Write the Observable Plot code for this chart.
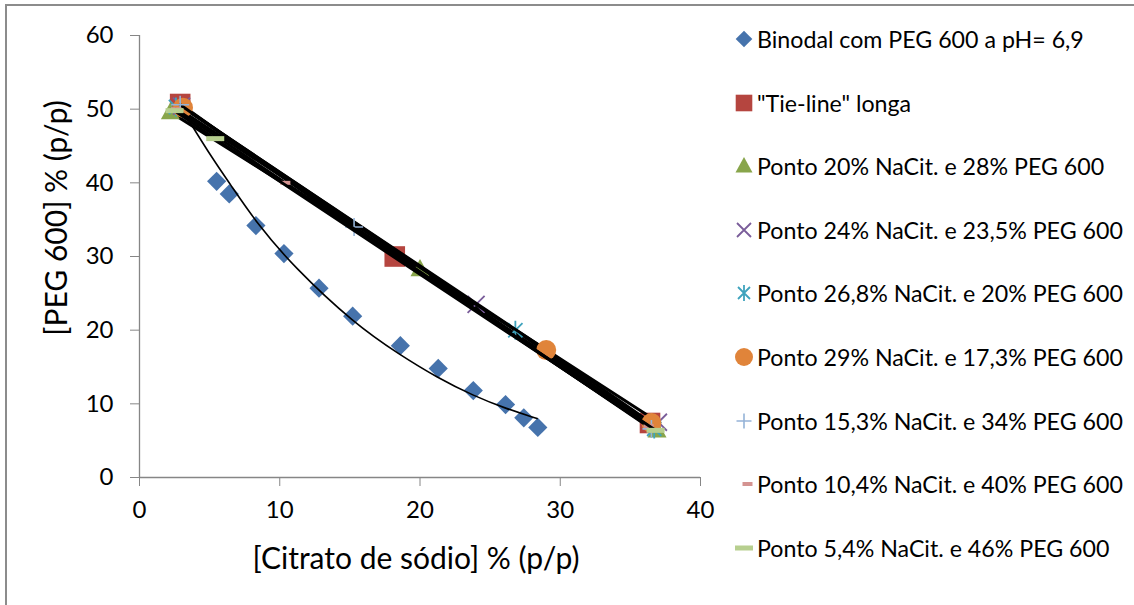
<!DOCTYPE html>
<html><head><meta charset="utf-8">
<script src="https://cdn.jsdelivr.net/npm/d3@7"></script>
<script src="https://cdn.jsdelivr.net/npm/@observablehq/plot@0.6"></script>
<style>
body{margin:0;background:#fff;}
#wrap{position:relative;width:1134px;height:605px;overflow:hidden;font-family:Lato,"Open Sans",sans-serif;color:#000;background:#fff;}
#frame{position:absolute;left:5px;top:4px;width:1300px;height:800px;border-left:2px solid #8c8c8c;border-top:2px solid #8c8c8c;box-sizing:border-box;}
#chart{position:absolute;left:0;top:0;}
.title{position:absolute;font-size:30px;white-space:nowrap;}
#legend{position:absolute;left:0;top:0;}
.lrow{position:absolute;left:733px;height:28px;display:flex;align-items:center;font-size:23.2px;white-space:nowrap;}
.lrow svg{width:22px;height:22px;margin-right:2px;flex:none;}
</style></head>
<body>
<div id="wrap">
  <div id="frame"></div>
  <div id="chart"></div>
  <div class="title" id="xt">[Citrato de sódio] % (p/p)</div>
  <div class="title" id="yt">[PEG 600] % (p/p)</div>
  <div id="legend"></div>
</div>
<script>
// ---- data ----
const xTicks = [0, 10, 20, 30, 40];
const yTicks = [0, 10, 20, 30, 40, 50, 60];

const binodalName = "Binodal com PEG 600 a pH= 6,9";
const binodalX = [2.8, 5.5, 6.4, 8.3, 10.3, 12.8, 15.2, 18.6, 21.3, 23.8, 26.1, 27.4, 28.4];
const binodalY = [50.2, 40.2, 38.5, 34.2, 30.4, 25.7, 21.9, 17.9, 14.8, 11.8, 9.9, 8.1, 6.8];

// trendline of the binodal
const trendX = [2.9, 3.6, 5.2, 6.4, 8.4, 11.0, 15.3, 18.6, 21.2, 23.8, 26.2, 28.35];
const trendY = [50.4, 48.2, 43.3, 40.0, 34.4, 28.6, 20.9, 16.6, 13.6, 11.1, 9.3, 8.0];

// tie-line series: top phase, mixture point, bottom phase
const tieNames = [
  "\"Tie-line\" longa",
  "Ponto 20% NaCit. e 28% PEG 600",
  "Ponto 24% NaCit. e 23,5% PEG 600",
  "Ponto 26,8% NaCit. e 20% PEG 600",
  "Ponto 29% NaCit. e 17,3% PEG 600",
  "Ponto 15,3% NaCit. e 34% PEG 600",
  "Ponto 10,4% NaCit. e 40% PEG 600",
  "Ponto 5,4% NaCit. e 46% PEG 600"
];
const tieTopX = [2.9, 2.2, 3.0, 2.6, 3.1, 2.9, 2.6, 2.5];
const tieTopY = [50.7, 49.6, 50.4, 50.3, 50.2, 50.6, 50.0, 49.8];
const tieMidX = [18.2, 20.0, 24.0, 26.8, 29.0, 15.3, 10.4, 5.4];
const tieMidY = [30.0, 28.3, 23.5, 20.0, 17.3, 34.0, 40.0, 46.0];
const tieBotX = [36.4, 36.9, 37.0, 36.7, 36.5, 36.5, 36.3, 36.8];
const tieBotY = [7.4, 6.4, 7.5, 6.6, 7.4, 6.6, 7.0, 6.4];

// ---- styles ----
const binodalColor = "#4673ac";
const tieColors = ["#b5453f", "#88a54b", "#7a5d9a", "#3fa3bd", "#e0843a", "#95b3d7", "#d49391", "#b7cf8f"];

const rect = (w, h) => ({draw(ctx) { ctx.moveTo(-w/2, -h/2); ctx.lineTo(w/2, -h/2); ctx.lineTo(w/2, h/2); ctx.lineTo(-w/2, h/2); ctx.closePath(); }});
const starX = {draw(ctx, size) { const r = Math.sqrt(size / Math.PI); const a = r * 0.75; ctx.moveTo(-a, -a); ctx.lineTo(a, a); ctx.moveTo(-a, a); ctx.lineTo(a, -a); ctx.moveTo(0, -r); ctx.lineTo(0, r); }};
const timesX = {draw(ctx, size) { const r = Math.sqrt(size / Math.PI); ctx.moveTo(-r, -r); ctx.lineTo(r, r); ctx.moveTo(-r, r); ctx.lineTo(r, -r); }};
const plusX = {draw(ctx, size) { const r = Math.sqrt(size / Math.PI); ctx.moveTo(-r, 0); ctx.lineTo(r, 0); ctx.moveTo(0, -r); ctx.lineTo(0, r); }};
const diamondS = {draw(ctx, size) { const r = Math.sqrt(size / Math.PI); ctx.moveTo(0, -r); ctx.lineTo(r, 0); ctx.lineTo(0, r); ctx.lineTo(-r, 0); ctx.closePath(); }};
const squareS = {draw(ctx, size) { const r = Math.sqrt(size / Math.PI); ctx.rect(-r, -r, 2*r, 2*r); }};
const triS = {draw(ctx, size) { const r = Math.sqrt(size / Math.PI); ctx.moveTo(0, -r*1.05); ctx.lineTo(r, r*0.75); ctx.lineTo(-r, r*0.75); ctx.closePath(); }};
const circS = {draw(ctx, size) { const r = Math.sqrt(size / Math.PI); ctx.moveTo(r, 0); ctx.arc(0, 0, r, 0, 2*Math.PI); }};

// symbol, r (plot), r (legend), filled?, stroke width, legend dx
const tieSym = [
  [squareS, 10.3, 8.3, true, 0, 0],
  [triS, 9.5, 8.5, true, 0, 0],
  [timesX, 8.5, 7, false, 1.8, 0],
  [starX, 9.5, 8, false, 1.8, 0],
  [circS, 10, 9, true, 0, 0],
  [plusX, 9, 7.5, false, 1.6, 0],
  [rect(10, 4), 5, 5, true, 0, 3.5],
  [rect(18, 5), 5, 5, true, 0, 0]
];

const binodal = binodalX.map((x, i) => ({x, y: binodalY[i]}));
const trend = trendX.map((x, i) => ({x, y: trendY[i]}));

const marks = [
  Plot.ruleY([0], {stroke: "#868686", strokeWidth: 1.3}),
  Plot.ruleX([0], {stroke: "#868686", strokeWidth: 1.3}),
  Plot.axisX({ticks: xTicks, tickSize: 9, tickPadding: 14, stroke: "#868686", fill: "#000", label: null, fontSize: 24}),
  Plot.axisY({ticks: yTicks, tickSize: 9, tickPadding: 17, stroke: "#868686", fill: "#000", label: null, fontSize: 24}),
  Plot.dot(binodal, {x: "x", y: "y", symbol: () => diamondS, r: 9.6, fill: binodalColor, stroke: "none"}),
  Plot.line(trend, {x: "x", y: "y", stroke: "#000", strokeWidth: 1.6, curve: "basis"})
];
tieNames.forEach((name, i) => {
  const pts = [
    {x: tieTopX[i], y: tieTopY[i]},
    {x: tieMidX[i], y: tieMidY[i]},
    {x: tieBotX[i], y: tieBotY[i]}
  ];
  const [sym, r, , filled, sw] = tieSym[i];
  marks.push(Plot.line(pts, {x: "x", y: "y", stroke: "#000", strokeWidth: 3}));
  marks.push(Plot.dot(pts, {x: "x", y: "y", symbol: () => sym, r,
    fill: filled ? tieColors[i] : "none", stroke: filled ? "none" : tieColors[i], strokeWidth: sw}));
});

const chart = Plot.plot({
  width: 1134, height: 605,
  marginLeft: 139, marginRight: 434, marginTop: 35, marginBottom: 128,
  style: {fontFamily: "Lato, 'Open Sans', sans-serif", fontSize: "24px", background: "transparent", overflow: "visible"},
  x: {domain: [0, 40]},
  y: {domain: [0, 60]},
  marks
});
document.getElementById("chart").appendChild(chart);

// axis titles
const xt = document.getElementById("xt");
xt.style.left = "416px"; xt.style.top = "557px"; xt.style.transform = "translate(-50%,-50%)";
const yt = document.getElementById("yt");
yt.style.left = "55px"; yt.style.top = "218px"; yt.style.transform = "translate(-50%,-50%) rotate(-90deg)";

// legend
const legend = document.getElementById("legend");
const legItems = [{name: binodalName, color: binodalColor, sym: diamondS, r: 8.3, filled: true, sw: 0, dx: 0}]
  .concat(tieNames.map((name, i) => ({name, color: tieColors[i], sym: tieSym[i][0], r: tieSym[i][2], filled: tieSym[i][3], sw: tieSym[i][4], dx: tieSym[i][5]})));
legItems.forEach((it, i) => {
  const row = document.createElement("div");
  row.className = "lrow";
  row.style.top = (39 + i * 63.6 - 14) + "px";
  const path = d3.symbol().type(it.sym).size(Math.PI * it.r * it.r)();
  row.innerHTML = `<svg viewBox="-11 -11 22 22"><path transform="translate(${it.dx},0)" d="${path}" fill="${it.filled ? it.color : "none"}" stroke="${it.filled ? "none" : it.color}" stroke-width="${it.sw}"/></svg><span></span>`;
  row.querySelector("span").textContent = it.name;
  legend.appendChild(row);
});
</script>
</body></html>
